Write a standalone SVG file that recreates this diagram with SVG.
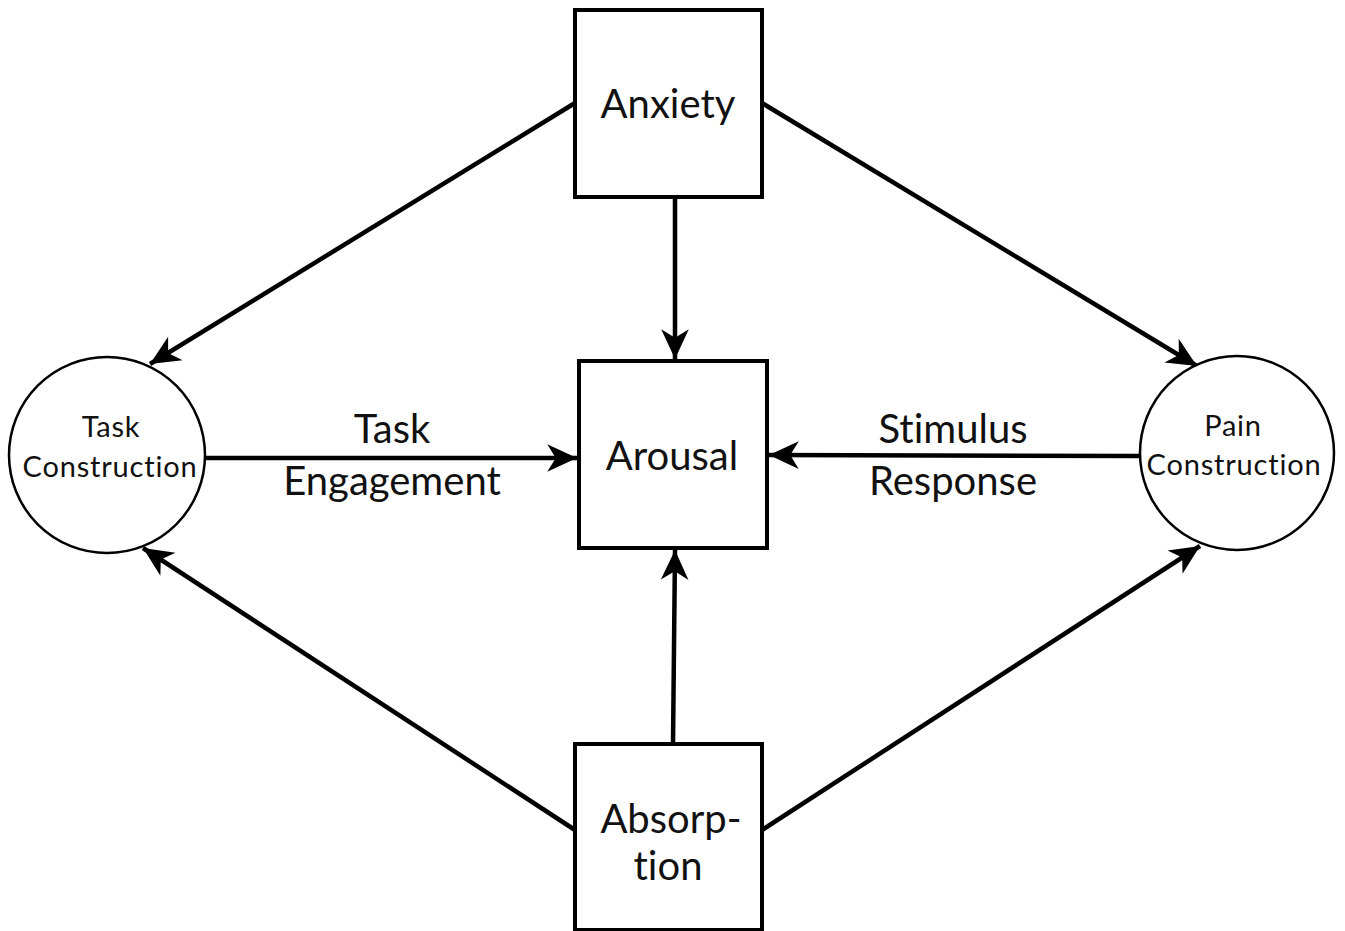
<svg xmlns="http://www.w3.org/2000/svg" width="1345" height="931" viewBox="0 0 1345 931">
<defs>
<marker id="ah" markerUnits="userSpaceOnUse" markerWidth="34" markerHeight="34" viewBox="-30 -15 32 30" refX="0" refY="0" orient="auto">
<path d="M0,0 L-28,-13 L-20,0 L-28,13 Z" fill="#000"/>
</marker>
<style>
.box{fill:#fff;stroke:#000;stroke-width:4}
.circ{fill:#fff;stroke:#000;stroke-width:2.5}
.edge{stroke:#000;stroke-width:4.5;fill:none;marker-end:url(#ah)}
text{font-family:Lato,"Liberation Sans",sans-serif;fill:#111;text-anchor:middle;font-variant-ligatures:none;font-feature-settings:"liga" 0}
.big{font-size:40px}
.lab{font-size:40px}
.small{font-size:29px;letter-spacing:0.8px}
</style>
</defs>
<rect width="1345" height="931" fill="#fff"/>
<g id="connectors">
<line class="edge" x1="575" y1="103" x2="150" y2="364"/>
<line class="edge" x1="762" y1="103" x2="1197" y2="366"/>
<line class="edge" x1="675" y1="197" x2="675" y2="359"/>
<line class="edge" x1="204" y1="458" x2="577" y2="458"/>
<line class="edge" x1="1140" y1="456" x2="769" y2="455"/>
<line class="edge" x1="673" y1="744" x2="675" y2="550"/>
<line class="edge" x1="575" y1="830" x2="143" y2="548"/>
<line class="edge" x1="762" y1="830" x2="1200" y2="546"/>
</g>
<g id="edge-labels">
<text class="lab" x="392" y="443">Task</text>
<text class="lab" x="392" y="495">Engagement</text>
<text class="lab" x="953" y="443">Stimulus</text>
<text class="lab" x="953" y="495">Response</text>
</g>
<g id="anxiety">
<rect class="box" x="575" y="10" width="187" height="187"/>
<text class="big" x="668" y="118">Anxiety</text>
</g>
<g id="arousal">
<rect class="box" x="579" y="361" width="188" height="187"/>
<text class="big" x="672" y="470">Arousal</text>
</g>
<g id="absorption">
<rect class="box" x="575" y="744" width="187" height="186"/>
<text class="big" x="671" y="833">Absorp-</text>
<text class="big" x="668" y="880">tion</text>
</g>
<g id="task-construction">
<circle class="circ" cx="107" cy="455" r="98"/>
<text class="small" x="111" y="437">Task</text>
<text class="small" x="110" y="477">Construction</text>
</g>
<g id="pain-construction">
<circle class="circ" cx="1237" cy="453" r="97"/>
<text class="small" x="1233" y="436">Pain</text>
<text class="small" x="1234" y="475">Construction</text>
</g>
</svg>
